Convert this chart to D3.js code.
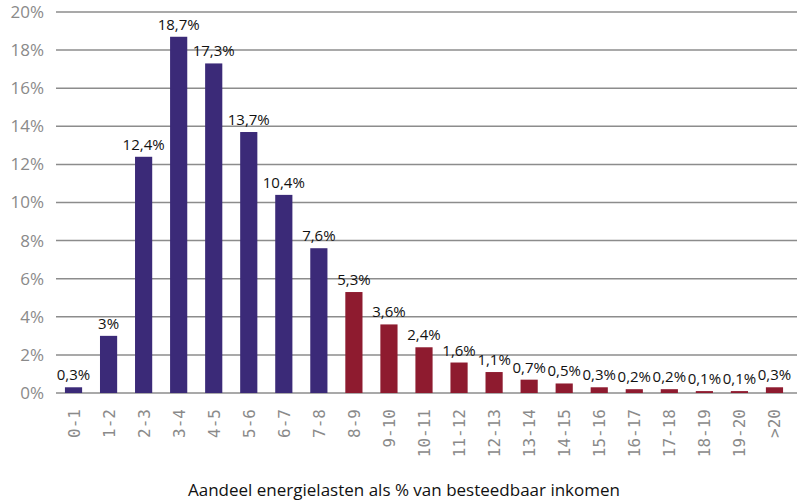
<!DOCTYPE html>
<html>
<head>
<meta charset="utf-8">
<script src="https://cdn.jsdelivr.net/npm/d3@7"></script>
<style>
  body { margin: 0; background: #fff; }
  svg { display: block; font-family: "Open Sans", "Noto Sans", sans-serif; }
</style>
</head>
<body>
<div id="chart"></div>
<script>
const categories = ["0-1", "1-2", "2-3", "3-4", "4-5", "5-6", "6-7", "7-8", "8-9", "9-10",
  "10-11", "11-12", "12-13", "13-14", "14-15", "15-16", "16-17", "17-18", "18-19", "19-20", ">20"];
const values = [0.3, 3, 12.4, 18.7, 17.3, 13.7, 10.4, 7.6, 5.3, 3.6,
  2.4, 1.6, 1.1, 0.7, 0.5, 0.3, 0.2, 0.2, 0.1, 0.1, 0.3];
const yTicks = [0, 2, 4, 6, 8, 10, 12, 14, 16, 18, 20];
const redFrom = "8-9";
const xTitle = "Aandeel energielasten als % van besteedbaar inkomen";

function draw() {
  const width = 803;
  const height = 502;

  const svg = d3.select("#chart")
    .append("svg")
    .attr("width", width)
    .attr("height", height);

  const x = d3.scaleBand()
    .domain(categories)
    .range([56, 792])
    .paddingInner(0.51)
    .paddingOuter(0.255);

  const y = d3.scaleLinear()
    .domain([0, 20])
    .range([393, 12]);

  const fmt = v => String(v).replace(".", ",") + "%";

  // gridlines
  svg.append("g")
    .selectAll("line")
    .data(yTicks)
    .join("line")
    .attr("x1", 56)
    .attr("x2", 797)
    .attr("y1", d => y(d))
    .attr("y2", d => y(d))
    .attr("stroke", "#8c8c8c")
    .attr("stroke-width", 1.5);

  // y labels
  svg.append("g")
    .selectAll("text")
    .data(yTicks)
    .join("text")
    .attr("x", 44)
    .attr("y", d => y(d))
    .attr("dy", "0.35em")
    .attr("text-anchor", "end")
    .attr("fill", "#8a8a8a")
    .attr("font-size", 17)
    .text(d => d + "%");

  const redIdx = categories.indexOf(redFrom);
  const rows = categories.map((c, i) => ({ c, v: values[i], red: i >= redIdx }));

  svg.append("g")
    .selectAll("rect")
    .data(rows)
    .join("rect")
    .attr("x", d => x(d.c))
    .attr("width", x.bandwidth())
    .attr("y", d => y(d.v))
    .attr("height", d => y(0) - y(d.v))
    .attr("fill", d => d.red ? "#8e1b2f" : "#3b2a78");

  // value labels
  svg.append("g")
    .selectAll("text")
    .data(rows)
    .join("text")
    .attr("x", d => x(d.c) + x.bandwidth() / 2)
    .attr("y", d => y(d.v) - 7)
    .attr("text-anchor", "middle")
    .attr("fill", "#111")
    .attr("font-size", 15)
    .text(d => fmt(d.v));

  // category labels, rotated
  svg.append("g")
    .selectAll("text")
    .data(categories)
    .join("text")
    .attr("transform", d => `translate(${x(d) + x.bandwidth() / 2 + 6},${409}) rotate(-90)`)
    .attr("text-anchor", "end")
    .attr("fill", "#8a8a8a")
    .attr("font-family", "'DejaVu Sans Mono', monospace")
    .attr("font-size", 16)
    .text(d => d);

  svg.append("text")
    .attr("x", 404)
    .attr("y", 496)
    .attr("text-anchor", "middle")
    .attr("fill", "#111")
    .attr("font-size", 17)
    .text(xTitle);
}
draw();
</script>
</body>
</html>
